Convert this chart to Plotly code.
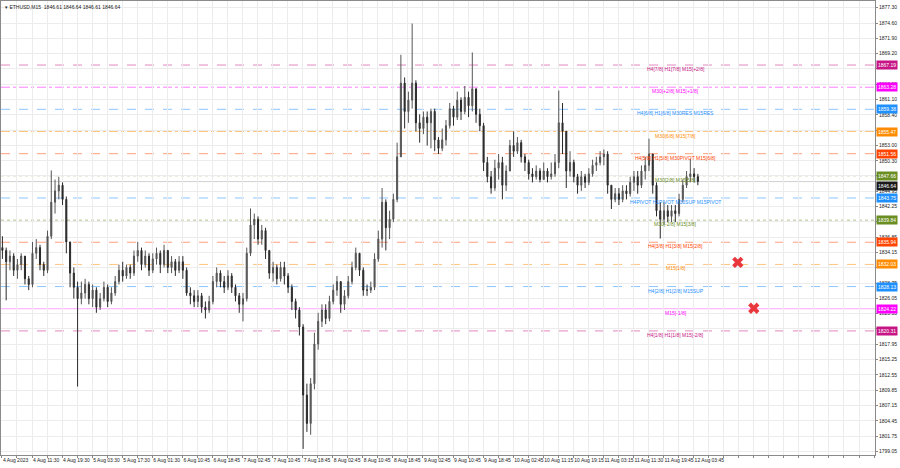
import plotly.graph_objects as go

# ---------------- data (hourly aggregation of the M15 chart) ----------------
close = [
    1834.5, 1832.5, 1833.5, 1831, 1832, 1833.5, 1829.5, 1828.5, 1834, 1835,
    1832, 1831, 1837, 1843, 1845, 1846, 1843.5, 1836, 1830.5, 1828,
    1826, 1827, 1828.5, 1826, 1827.5, 1824.5, 1826, 1828, 1825.5, 1827,
    1829, 1831, 1830, 1831.5, 1830.5, 1833.5, 1834.5, 1832, 1833.5, 1831,
    1833, 1834, 1832, 1834.5, 1831.5, 1832.5, 1831, 1832.5, 1831, 1827,
    1826.5, 1825.5, 1826.5, 1824.5, 1824, 1825.5, 1829, 1830.5, 1829, 1828,
    1830, 1828, 1826.5, 1825, 1826, 1834, 1839, 1840, 1836.5, 1838,
    1834.5, 1830.5, 1831.5, 1829.5, 1831.5, 1830, 1828, 1825.5, 1824, 1821,
    1809, 1804, 1811, 1818, 1822, 1824, 1822.5, 1825.5, 1827.5, 1829,
    1825, 1826.5, 1829, 1831.5, 1834, 1831, 1827.5, 1827.5, 1828, 1833,
    1836.5, 1843, 1838.5, 1840, 1843.5, 1851, 1864, 1859, 1861, 1864,
    1857, 1856, 1858, 1857, 1859, 1854, 1852.5, 1854, 1856.5, 1859.5,
    1858, 1861, 1859, 1861.5, 1860, 1863, 1858.5, 1856.5, 1850, 1847.5,
    1845.5, 1849, 1850, 1846, 1848.5, 1853, 1852, 1853.5, 1851, 1850,
    1848, 1847.5, 1848.5, 1847, 1848.5, 1847.5, 1848, 1850, 1857, 1855.5,
    1848.5, 1850, 1847.5, 1846, 1847.5, 1846.5, 1848, 1849.5, 1850, 1851,
    1851.5, 1846, 1843.5, 1844.5, 1843.5, 1845, 1844.5, 1846.5, 1847.5, 1846,
    1848.5, 1849.5, 1851.5, 1846, 1841.5, 1840, 1841.5, 1840.5, 1841.5, 1841,
    1843.5, 1846, 1847.5, 1848, 1847.5, 1846.64,
]
high = [
    1837, 1835, 1834.5, 1834, 1833, 1834, 1833.5, 1830, 1836, 1836.5,
    1835.5, 1832.5, 1838, 1848.6, 1847, 1847.5, 1846.5, 1844, 1836, 1831.5,
    1829, 1829, 1829.5, 1829, 1828.5, 1828, 1827, 1829, 1828.5, 1828,
    1830, 1832, 1832.5, 1832, 1832, 1834.5, 1836, 1835, 1834.5, 1834,
    1834, 1835, 1834.5, 1835.5, 1834.5, 1833.5, 1833, 1833.5, 1833.5, 1831.5,
    1828, 1827.5, 1827.5, 1827, 1825.5, 1826.5, 1830, 1831.5, 1831, 1830,
    1831, 1830.5, 1828.5, 1827, 1827, 1835, 1841.9, 1841, 1840.5, 1839,
    1838.5, 1834.5, 1832.5, 1832, 1832.5, 1832.5, 1830.5, 1828.5, 1826, 1824.5,
    1821.5, 1811, 1812, 1820, 1823.5, 1825, 1825, 1826.5, 1828.5, 1830,
    1829, 1827.5, 1830, 1832.5, 1835, 1834, 1831.5, 1828.5, 1829, 1834,
    1838, 1845.5, 1843.5, 1841.5, 1844.5, 1853.5, 1869, 1865, 1862.5, 1874.5,
    1864.5, 1858.5, 1859, 1859, 1859.5, 1859.5, 1854.5, 1856, 1857.5, 1860.5,
    1860, 1862.5, 1861.5, 1863.5, 1862.5, 1869.4, 1863, 1859.5, 1857, 1851,
    1848.5, 1850.5, 1851.5, 1851, 1849.5, 1854, 1855.5, 1854.5, 1854, 1851.5,
    1850.5, 1849, 1849.5, 1849, 1850, 1849, 1850, 1851.5, 1862.7, 1860.5,
    1855.5, 1852, 1850.5, 1848, 1848.5, 1848, 1849, 1850.5, 1851, 1852,
    1852.3, 1852, 1846, 1845.5, 1845.5, 1846, 1846, 1847.5, 1848.5, 1848.5,
    1849.5, 1851, 1854.2, 1851.5, 1846.5, 1843, 1843, 1842.5, 1842.5, 1842.5,
    1844.5, 1847, 1848.5, 1850.7, 1849, 1848,
]
low = [
    1833, 1825.7, 1831, 1830, 1829.5, 1831, 1828.5, 1827.5, 1828, 1833,
    1831, 1830, 1830.5, 1836.5, 1841, 1843.5, 1842.5, 1834, 1828, 1826,
    1810.5, 1825, 1826, 1825, 1824.5, 1823.5, 1824, 1825.5, 1824.5, 1825,
    1826.5, 1828.5, 1829, 1829.5, 1829.5, 1830, 1832.5, 1831, 1831.5, 1830,
    1830.5, 1832, 1830.5, 1831.5, 1830.5, 1830.5, 1830, 1830.5, 1829.5, 1826.5,
    1825, 1824.5, 1824.5, 1823.5, 1822.5, 1823.5, 1825, 1828, 1828, 1827,
    1827.5, 1827, 1825.5, 1823.5, 1822, 1825.5, 1833.5, 1836.5, 1835.5, 1835.5,
    1833, 1829.5, 1829, 1828.5, 1829, 1828.5, 1827, 1824, 1822.5, 1819.5,
    1799.5, 1802.5, 1802, 1810, 1817, 1821, 1821.5, 1822, 1825, 1826.5,
    1823.5, 1824, 1826, 1828.5, 1831, 1830, 1826.5, 1826.5, 1827, 1827.5,
    1832.5, 1835, 1834.5, 1836.5, 1839.5, 1843, 1851, 1856, 1857, 1859.5,
    1855.5, 1853.5, 1855, 1853, 1852.5, 1852, 1851.5, 1852, 1853, 1856,
    1856.5, 1857.5, 1857.5, 1858.5, 1858, 1859, 1857, 1855.5, 1848.5, 1846.5,
    1844.5, 1845, 1847, 1843.5, 1845, 1848.5, 1851, 1851.5, 1850, 1848.5,
    1847, 1846.5, 1847, 1846.5, 1847, 1846.5, 1847, 1847.5, 1849, 1851.5,
    1845.5, 1847.5, 1846.5, 1844.5, 1845, 1845.5, 1846, 1847.5, 1848.5, 1849.5,
    1849.5, 1844.5, 1841.8, 1843, 1842.5, 1843, 1843.5, 1844, 1845, 1844.5,
    1845.5, 1847, 1848.5, 1844.5, 1840.5, 1836.6, 1839, 1839.5, 1839.5, 1839.5,
    1840.5, 1843, 1845.5, 1846.5, 1846.5, 1846,
]
first_open = 1835.0
open_ = [first_open] + close[:-1]
bars_per_candle = 4  # one hourly candle = four M15 bars
bar_pos = [i * bars_per_candle + 0.5 for i in range(len(close))]

x_labels = ["4 Aug 2023", "4 Aug 11:30", "4 Aug 19:30", "5 Aug 03:30", "5 Aug 17:30",
            "6 Aug 01:30", "6 Aug 10:45", "6 Aug 18:45", "7 Aug 02:45", "7 Aug 10:45",
            "7 Aug 18:45", "8 Aug 02:45", "8 Aug 10:45", "8 Aug 18:45", "9 Aug 02:45",
            "9 Aug 10:45", "9 Aug 18:45", "10 Aug 02:45", "10 Aug 11:15", "10 Aug 19:15",
            "11 Aug 03:15", "11 Aug 11:30", "11 Aug 19:45", "12 Aug 03:45"]

y_ticks = [1877.30, 1874.60, 1871.90, 1869.20, 1866.50, 1863.80, 1861.10, 1858.40,
           1855.70, 1853.00, 1850.30, 1847.65, 1844.95, 1842.25, 1839.55, 1836.85,
           1834.15, 1831.45, 1828.75, 1826.05, 1823.35, 1820.65, 1817.95, 1815.25,
           1812.55, 1809.85, 1807.15, 1804.45, 1801.75, 1799.05]
# tick labels that sit hidden under the level price boxes in the reference
y_hidden = [1866.50, 1855.70, 1847.65, 1839.55, 1831.45]

level_values = [1867.19, 1863.28, 1859.38, 1855.47, 1851.56, 1847.66, 1843.75,
                1839.84, 1835.94, 1832.03, 1828.13, 1824.22, 1820.31]
level_names = ["H4[7/8] H1[7/8] M15[+2/8]", "M30[+2/8] M15[+1/8]",
               "H4[6/8] H1[6/8] M30RES M15RES", "M30[6/8] M15[7/8]",
               "H4[5/8] H1[5/8] M30PIVOT M15[6/8]", "M30[2/8] M15[5/8]",
               "H4PIVOT H1PIVOT M30SUP M15PIVOT", "M30[-2/8] M15[3/8]",
               "H4[3/8] H1[3/8] M15[2/8]", "M15[1/8]", "H4[2/8] H1[2/8] M15SUP",
               "M15[-1/8]", "H4[1/8] H1[1/8] M15[-2/8]"]
level_colors = ["#C71585", "#FF00FF", "#1E90FF", "#FF8C00", "#FF4500", "#6B8E23",
                "#1E90FF", "#6B8E23", "#FF4500", "#FF8C00", "#1E90FF", "#FF00FF", "#C71585"]
level_dash = ["dash", "dashdot", "dash", "dashdot", "dash", "dot", "dash",
              "dot", "dash", "dash", "dash", "solid", "dash"]

current_price = 1846.64
signal_bar = [783, 800]
signal_price = [1832.4, 1824.3]

# ---------------- figure ----------------
fig = go.Figure()
fig.add_trace(go.Candlestick(
    x=bar_pos, open=open_, high=high, low=low, close=close,
    increasing=dict(line=dict(color="#555555", width=1), fillcolor="#555555"),
    decreasing=dict(line=dict(color="#2a2a2a", width=1), fillcolor="#2a2a2a"),
    whiskerwidth=0, hoverinfo="skip", showlegend=False,
))
fig.add_trace(go.Scatter(
    x=signal_bar, y=signal_price, mode="markers",
    marker=dict(symbol="x", size=10, color="#E8383D", line=dict(width=0)),
    hoverinfo="skip", showlegend=False,
))

shapes = []
annotations = []
for v, name, col, dash in zip(level_values, level_names, level_colors, level_dash):
    shapes.append(dict(type="line", xref="paper", x0=0, x1=1, yref="y", y0=v, y1=v,
                       line=dict(color=col, width=1, dash=dash),
                       opacity=0.35 if dash == "solid" else 0.5, layer="below"))
    annotations.append(dict(x=717, y=v, xref="x", yref="y", text=name, showarrow=False,
                            xanchor="center", yanchor="top", yshift=1,
                            font=dict(size=5, color=col, family="Liberation Sans")))
    annotations.append(dict(x=1, y=v, xref="paper", yref="y", text=f"{v:.2f}", showarrow=False,
                            xanchor="left", yanchor="middle", xshift=1, bgcolor=col,
                            borderpad=1, font=dict(size=5, color="white", family="Liberation Sans")))

shapes.append(dict(type="line", xref="paper", x0=0, x1=1, yref="y", y0=current_price, y1=current_price,
                   line=dict(color="#d0d0d0", width=1), layer="below"))
annotations.append(dict(x=1, y=current_price, xref="paper", yref="y", text=f"{current_price:.2f}",
                        showarrow=False, xanchor="left", yanchor="top", xshift=1, yshift=1,
                        bgcolor="#1a1a1a", borderpad=1,
                        font=dict(size=5, color="white", family="Liberation Sans")))
annotations.append(dict(x=0, y=1, xref="paper", yref="paper", xanchor="left", yanchor="top",
                        xshift=2, yshift=-1, showarrow=False,
                        text="▾ ETHUSD,M15  1846.61 1846.64 1846.61 1846.64",
                        font=dict(size=5, color="#222", family="Liberation Sans")))

tick_bars = list(range(0, 929, 16))
tick_text = [x_labels[k // 2] if (k % 2 == 0 and k // 2 < len(x_labels)) else "" for k in range(len(tick_bars))]
y_text = ["" if t in y_hidden else f"{t:.2f}" for t in y_ticks]

fig.update_layout(
    width=900, height=468,
    margin=dict(l=1, r=25, t=1, b=13, autoexpand=False),
    paper_bgcolor="white", plot_bgcolor="white",
    shapes=shapes, annotations=annotations,
    showlegend=False, hovermode=False, boxgap=0.6,
    font=dict(family="Liberation Sans", size=5, color="#222"),
)
fig.update_xaxes(
    range=[-1, 929], tickvals=tick_bars, ticktext=tick_text, tickangle=0, automargin=False,
    showgrid=True, gridcolor="#ececec", gridwidth=1, zeroline=False,
    ticks="outside", ticklen=2, tickcolor="#888", ticklabelposition="outside right",
    tickfont=dict(size=5, color="#222"), showline=True, linecolor="#8a8a8a", mirror=True,
    rangeslider=dict(visible=False),
)
fig.update_yaxes(
    side="right", range=[1798.43, 1878.48], tickvals=y_ticks, ticktext=y_text, automargin=False,
    showgrid=True, gridcolor="#ececec", gridwidth=1, zeroline=False,
    ticks="outside", ticklen=2, tickcolor="#888",
    tickfont=dict(size=5, color="#222"), showline=True, linecolor="#8a8a8a", mirror=True,
)

fig.write_html(
    "out.html",
    config={"displayModeBar": False},
    post_script="document.body.style.margin='0';document.body.style.overflow='hidden';",
)
